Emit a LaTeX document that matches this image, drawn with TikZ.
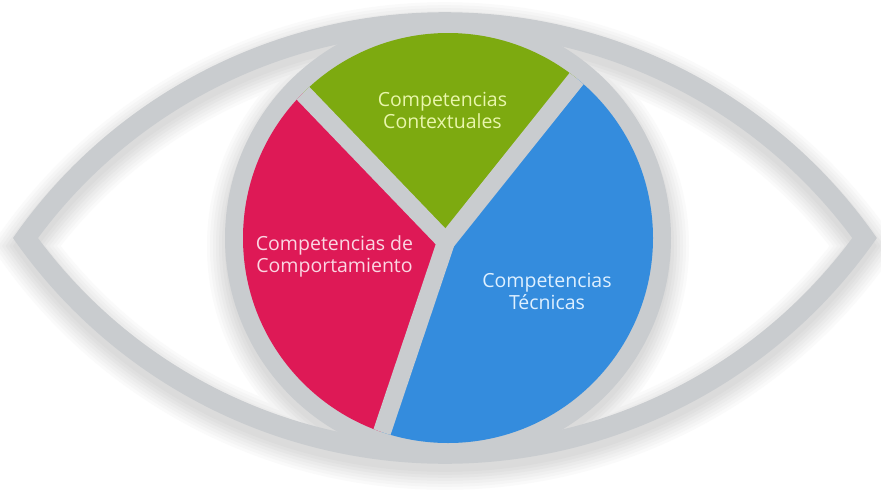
\documentclass[tikz,border=0pt]{standalone}
\usepackage{fontspec}
\setmainfont{Open Sans}
\begin{document}
\begin{tikzpicture}[x=1pt,y=-1pt]
\definecolor{bandgrey}{RGB}{201,204,207}
\definecolor{ctxgreen}{RGB}{125,170,16}
\definecolor{behred}{RGB}{222,25,86}
\definecolor{tecblue}{RGB}{52,140,221}
\definecolor{ctxtext}{RGB}{233,246,172}
\definecolor{behtext}{RGB}{251,214,226}
\definecolor{tectext}{RGB}{222,240,255}
\tikzset{
  lbl/.style={font=\fontsize{19.5}{22}\selectfont, align=center, inner sep=0pt},
  gapline/.style={bandgrey, line width=18pt, line cap=round}
}
% outer and inner outline of the eye (two circular arcs each)
\def\outerlens{(13,238) arc[start angle=214.8,end angle=325.2,radius=526]
  arc[start angle=34.8,end angle=145.2,radius=526] -- cycle}
\def\innerlens{(38,238) arc[start angle=216.5,end angle=323.5,radius=506.5]
  arc[start angle=36.5,end angle=143.5,radius=506.5] -- cycle}
\def\iris{(448,238) circle[radius=223]}

\useasboundingbox (0,0) rectangle (881,493);
\fill[white] (0,0) rectangle (881,493);

% soft drop shadow below the eye and the iris
\begin{scope}[shift={(0,8)}]
  \foreach \w/\c in {36/2,30/4,24/6,18/8,12/10,6/12}{
    \draw[line width=\w pt, black!\c] \outerlens \innerlens;
    \draw[line width=\w pt, black!\c] \iris;
  }
  \fill[black!14, even odd rule] \outerlens \innerlens;
  \fill[black!14] \iris;
\end{scope}

% eye band and iris ring
\fill[bandgrey, even odd rule] \outerlens \innerlens;
\fill[bandgrey] \iris;

% the three sectors
\coordinate (J) at (446,242);
\coordinate (rg) at (30.2,-190.6);
\coordinate (gb) at (820.4,-226.6);
\coordinate (rb) at (254.6,810.2);
\begin{scope}
  \clip (448,238) circle[radius=205];
  \fill[ctxgreen] (J) -- (rg) -- (418.4,-357.4) -- (gb) -- cycle;
  \fill[behred] (J) -- (rg) -- (-139.6,372.8) -- (rb) -- cycle;
  \fill[tecblue] (J) -- (gb) -- (972.8,528.8) -- (rb) -- cycle;
  \draw[gapline] (J) -- (rg);
  \draw[gapline] (J) -- (gb);
  \draw[gapline] (J) -- (rb);
\end{scope}

% labels
\node[lbl, text=ctxtext] (ctx) at (442.5,110) {Competencias\\Contextuales};
\node[lbl, text=behtext] (beh) at (334.5,256) {Competencias de\\Comportamiento};
\node[lbl, text=tectext] (tec) at (547,291) {Competencias\\Técnicas};
\end{tikzpicture}
\end{document}
